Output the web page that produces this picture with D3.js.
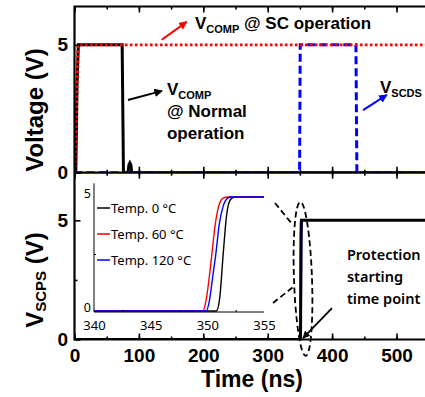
<!DOCTYPE html>
<html><head><meta charset="utf-8">
<script src="https://cdn.jsdelivr.net/npm/d3@7"></script>
<style>
html,body{margin:0;padding:0;background:#fff;}
svg{display:block;}
</style></head>
<body><svg id="c" width="425" height="397"></svg>
<script>
// ---------- data ----------
const xTicksMajor = [0, 100, 200, 300, 400, 500];
const xTicksMinor = [0, 50, 100, 150, 200, 250, 300, 350, 400, 450, 500, 550];
const yTicksMajor = [0, 5];
const yTicksMinor = [2.5];
// top panel: [time ns, volts]
const vcompNormal = [[0,0],[2,0],[4,3.5],[6,5],[74,5],[75,2.5],[76,0],[83,0],[84.5,0.3],[86,0.38],[87.5,0.3],[89,0],[550,0]];
const vcompSC = [[0,0],[0.5,0],[5.5,5],[550,5]];
const vscds = [[0,0],[349.5,0],[350.5,5],[437,5],[438.5,0],[550,0]];
// bottom panel
const vscps0 = [[0,0],[340,0],[350.8,0],[351.1,0.6],[351.4,2.5],[351.7,4.2],[352.0,4.85],[352.4,5],[550,5]];
const vscps60 = [[0,0],[340,0],[349.6,0],[349.9,0.5],[350.2,1.6],[350.4,2.5],[350.7,3.8],[351.0,4.6],[351.4,4.95],[351.8,5],[550,5]];
const vscps120 = [[0,0],[340,0],[349.9,0],[350.2,0.5],[350.5,1.6],[350.75,2.5],[351.05,3.8],[351.4,4.6],[351.8,4.95],[352.1,5],[550,5]];
// inset
const insetXTicks = [340, 345, 350, 355];
const insetXMinor = [342.5, 347.5, 352.5];
const insetYTicks = [0, 5];
const insetYMinor = [2.5];
const legendLabels = ["Temp. 0 \u00B0C", "Temp. 60 \u00B0C", "Temp. 120 \u00B0C"];
const legendColors = ["#000000", "#ff0000", "#0000ff"];

// ---------- scales ----------
const svg = d3.select("#c");
const L = 74.5, R = 428.7, T = 6.5, M = 172.7, B = 339.5;
const x = d3.scaleLinear([0, 550], [L, R]);
const yTop = d3.scaleLinear([0, 6.5], [M, T]);
const yBot = d3.scaleLinear([0, 7], [B, M]);
const xi = d3.scaleLinear([340, 355], [94, 264]);
const yi = d3.scaleLinear([0, 5], [311, 197]);

const FONT = "'Liberation Sans', Arial, sans-serif";
const FONT2 = "'Noto Sans', 'Open Sans', sans-serif";

const defs = svg.append("defs");
defs.append("clipPath").attr("id","clipTop").append("rect").attr("x",L).attr("y",T).attr("width",R-L).attr("height",M-T);
defs.append("clipPath").attr("id","clipBot").append("rect").attr("x",L).attr("y",M).attr("width",R-L).attr("height",B-M);
function marker(id, color){
  defs.append("marker").attr("id",id).attr("viewBox","0 0 10 10").attr("refX",9).attr("refY",5)
    .attr("markerWidth",4.2).attr("markerHeight",4.2).attr("orient","auto")
    .append("path").attr("d","M0,0L10,5L0,10Z").attr("fill",color);
}
marker("arRed","#ff0000"); marker("arBlack","#000"); marker("arBlue","#0000ff");

// ---------- lines ----------
const lineTop = d3.line().x(d=>x(d[0])).y(d=>yTop(d[1]));
const lineBot = d3.line().x(d=>x(d[0])).y(d=>yBot(d[1]));
const gTop = svg.append("g").attr("clip-path","url(#clipTop)");
gTop.append("path").attr("d",lineTop(vcompNormal)).attr("fill","none").attr("stroke","#000").attr("stroke-width",3);
gTop.append("path").attr("d",lineTop(vscds)).attr("fill","none").attr("stroke","#0000ff").attr("stroke-width",3).attr("stroke-dasharray","8,4");
gTop.append("path").attr("d",lineTop(vcompSC)).attr("fill","none").attr("stroke","#ff0000").attr("stroke-width",2.8).attr("stroke-dasharray","2.7,2.3");

const gBot = svg.append("g").attr("clip-path","url(#clipBot)");
gBot.append("path").attr("d",lineBot(vscps60)).attr("fill","none").attr("stroke","#ff0000").attr("stroke-width",1.2);
gBot.append("path").attr("d",lineBot(vscps120)).attr("fill","none").attr("stroke","#0000ff").attr("stroke-width",1.2)
  .attr("transform","translate(1.2,0)");
gBot.append("path").attr("d",lineBot(vscps0)).attr("fill","none").attr("stroke","#000").attr("stroke-width",3);

// ---------- axes / frames ----------
function styleAxis(g){ g.select(".domain").remove(); g.selectAll("line").attr("stroke","#000").attr("stroke-width",1.6); }
function addX(yPos, dir, labels){
  const mk = dir==="bottom" ? d3.axisBottom : d3.axisTop;
  svg.append("g").attr("transform",`translate(0,${yPos})`)
    .call(mk(x).tickValues(xTicksMinor).tickSize(-3).tickFormat("")).call(styleAxis);
  const g = svg.append("g").attr("transform",`translate(0,${yPos})`)
    .call(mk(x).tickValues(xTicksMajor).tickSize(-6).tickPadding(9).tickFormat(labels? d3.format("d"): ""));
  styleAxis(g);
  g.selectAll("text").attr("font-family",FONT).attr("font-weight","bold").attr("font-size",19).attr("fill","#000");
}
addX(T, "top", false);
addX(M, "bottom", false);
addX(M, "top", false);
addX(B, "bottom", true);
function addY(sc){
  svg.append("g").attr("transform",`translate(${L},0)`)
    .call(d3.axisLeft(sc).tickValues(yTicksMinor).tickSize(-3).tickFormat("")).call(styleAxis);
  const g = svg.append("g").attr("transform",`translate(${L},0)`)
    .call(d3.axisLeft(sc).tickValues(yTicksMajor).tickSize(-6).tickPadding(6.5).tickFormat(d3.format("d")));
  styleAxis(g);
  g.selectAll("text").attr("font-family",FONT).attr("font-weight","bold").attr("font-size",19).attr("fill","#000");
}
addY(yTop); addY(yBot);
svg.append("path").attr("d",`M${R},${T}H${L}V${B}H${R}M${L},${M}H${R}`).attr("fill","none").attr("stroke","#000").attr("stroke-width",2.2);

// ---------- axis titles ----------
svg.append("text").attr("transform","translate(43,110) rotate(-90)").attr("text-anchor","middle")
  .attr("font-family",FONT).attr("font-weight","bold").attr("font-size",24).text("Voltage (V)");
const ys = svg.append("text").attr("transform","translate(43,280) rotate(-90)").attr("text-anchor","middle")
  .attr("font-family",FONT).attr("font-weight","bold").attr("font-size",24);
ys.append("tspan").text("V");
ys.append("tspan").attr("font-size",15).attr("dy",3).text("SCPS");
ys.append("tspan").attr("dy",-3).text(" (V)");
svg.append("text").attr("x",252).attr("y",387).attr("text-anchor","middle")
  .attr("font-family",FONT).attr("font-weight","bold").attr("font-size",23).text("Time (ns)");

// ---------- top annotations ----------
function arrow(sc, a, b, color, id, w){
  svg.append("line").attr("x1",x(a[0])).attr("y1",sc(a[1])).attr("x2",x(b[0])).attr("y2",sc(b[1]))
    .attr("stroke",color).attr("stroke-width",w||2).attr("marker-end",`url(#${id})`);
}
function subLabel(tx, v, main, sub, rest, color){
  const t = svg.append("text").attr("x",x(tx)).attr("y",yTop(v)).attr("font-family",FONT).attr("font-weight","bold").attr("font-size",17).attr("fill",color||"#000");
  t.append("tspan").text(main);
  t.append("tspan").attr("font-size",11).attr("dy",4).text(sub);
  if(rest) t.append("tspan").attr("dy",-4).text(rest);
}
arrow(yTop,[135.4,5.2],[174.2,5.9],"#ff0000","arRed");
subLabel(187,5.62,"V","COMP"," @ SC operation");
arrow(yTop,[83,2.84],[135.9,3.2],"#000","arBlack");
subLabel(143.6,3.04,"V","COMP",null);
svg.append("text").attr("x",x(143.6)).attr("y",yTop(2.18)).attr("font-family",FONT).attr("font-weight","bold").attr("font-size",17).text("@ Normal");
svg.append("text").attr("x",x(143.6)).attr("y",yTop(1.31)).attr("font-family",FONT).attr("font-weight","bold").attr("font-size",17).text("operation");
arrow(yTop,[448,2.45],[485,3.04],"#0000ff","arBlue");
subLabel(474.4,3.12,"V","SCDS",null);

// ---------- bottom annotations ----------
svg.append("ellipse").attr("cx",x(354.8)).attr("cy",yBot(2.54)).attr("rx",x(14)-x(0)).attr("ry",yBot(0)-yBot(3.23))
  .attr("transform",`rotate(-2,${x(354.8)},${yBot(2.54)})`)
  .attr("fill","none").attr("stroke","#000").attr("stroke-width",1.8).attr("stroke-dasharray","6,3.5");
svg.append("line").attr("x1",x(311.3)).attr("y1",yBot(5.73)).attr("x2",x(339.3)).attr("y2",yBot(4.8))
  .attr("stroke","#000").attr("stroke-width",1.8).attr("stroke-dasharray","6,3.5");
svg.append("line").attr("x1",x(308.2)).attr("y1",yBot(1.53)).attr("x2",x(339.3)).attr("y2",yBot(2.2))
  .attr("stroke","#000").attr("stroke-width",1.8).attr("stroke-dasharray","6,3.5");
arrow(yBot,[399.8,1.32],[354.8,0.06],"#000","arBlack",1.8);
["Protection","starting","time point"].forEach((s,i)=>{
  svg.append("text").attr("x",x(423)).attr("y",yBot([3.34,2.41,1.49][i])).attr("font-family",FONT2)
    .attr("font-weight",600).attr("font-size",14.5).text(s);
});

// ---------- inset ----------
const gi = svg.append("g");
const lineIn = d3.line().x(d=>xi(d[0])).y(d=>yi(d[1])).curve(d3.curveMonotoneX);
[vscps0, vscps60, vscps120].forEach((s,i)=>{
  gi.append("path").attr("d",lineIn(s.filter(d=>d[0]>=340&&d[0]<=355).concat([[355,5]])))
    .attr("fill","none").attr("stroke",legendColors[i]).attr("stroke-width",1.4);
});
const ax = gi.append("g").attr("transform",`translate(0,${yi(0)+1})`)
  .call(d3.axisBottom(xi).tickValues(insetXTicks).tickSize(0).tickPadding(9).tickFormat(d3.format("d")));
ax.select(".domain").attr("d",`M${xi(340)},0H${xi(355)}`).attr("stroke","#000").attr("stroke-width",1);
ax.selectAll("text").attr("font-family",FONT2).attr("font-size",13).attr("fill","#000");
gi.append("g").attr("transform",`translate(0,${yi(0)+1})`)
  .call(d3.axisBottom(xi).tickValues(insetXMinor).tickSize(-2).tickFormat(""))
  .call(g=>{g.select(".domain").remove(); g.selectAll("line").attr("stroke","#000");});
const ay = gi.append("g").attr("transform",`translate(${xi(340)},0)`)
  .call(d3.axisLeft(yi).tickValues(insetYTicks).tickSize(0).tickPadding(3).tickFormat(d3.format("d")));
ay.select(".domain").attr("d",`M0,${yi(0)+1}V${yi(5.6)}`).attr("stroke","#000").attr("stroke-width",1);
ay.selectAll("text").attr("font-family",FONT2).attr("font-size",12.5).attr("fill","#000").attr("dy","0em");
gi.append("g").attr("transform",`translate(${xi(340)},0)`)
  .call(d3.axisLeft(yi).tickValues(insetYMinor).tickSize(-2).tickFormat(""))
  .call(g=>{g.select(".domain").remove(); g.selectAll("line").attr("stroke","#000");});
legendLabels.forEach((lab,i)=>{
  const yy = 208 + i*26;
  gi.append("line").attr("x1",97).attr("x2",110).attr("y1",yy).attr("y2",yy).attr("stroke",legendColors[i]).attr("stroke-width",1.5);
  gi.append("text").attr("x",111).attr("y",yy+4.5).attr("font-family",FONT2).attr("font-size",13).text(lab);
});
</script></body></html>
